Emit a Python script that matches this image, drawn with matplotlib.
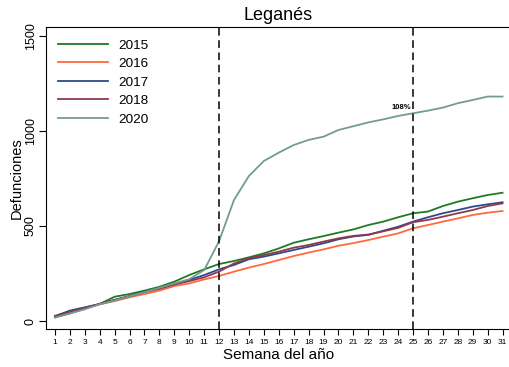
import matplotlib
matplotlib.use("Agg")
import matplotlib.pyplot as plt

plt.rcParams['font.family'] = ['Liberation Sans', 'DejaVu Sans']

# Semanas y defunciones acumuladas
semanas = list(range(1, 32))

d2015 = [20, 40, 65, 90, 128, 142, 160, 180, 207, 242, 272, 300, 316, 335, 356, 382,
         412, 430, 447, 465, 482, 505, 523, 546, 567, 576, 605, 628, 646, 663, 675]
d2016 = [28, 50, 70, 88, 105, 125, 142, 160, 184, 198, 219, 237, 260, 281, 300, 321,
         342, 360, 377, 396, 410, 426, 444, 461, 488, 505, 523, 540, 558, 570, 579]
d2017 = [25, 55, 72, 90, 112, 132, 155, 172, 195, 216, 242, 272, 295, 325, 339, 356,
         374, 391, 409, 430, 445, 453, 475, 496, 523, 546, 567, 584, 602, 614, 625]
d2018 = [22, 48, 68, 90, 110, 130, 152, 170, 192, 210, 230, 260, 303, 330, 347, 365,
         386, 400, 418, 435, 448, 455, 472, 490, 520, 532, 549, 567, 584, 605, 619]
d2020 = [18, 40, 62, 88, 108, 130, 152, 175, 198, 220, 268, 420, 637, 763, 842, 886,
         926, 953, 970, 1005, 1025, 1045, 1061, 1079, 1093, 1107, 1123, 1146, 1163, 1181, 1181]

series = [("2015", d2015, "#1f7a22"),
          ("2016", d2016, "#ff6a3d"),
          ("2017", d2017, "#2d4a8a"),
          ("2018", d2018, "#8e3a4c"),
          ("2020", d2020, "#739c90")]

fig = plt.figure(figsize=(5.09, 3.67), dpi=100)
ax = fig.add_axes([0.0904, 0.1035, 0.9136, 0.8229])

for nombre, valores, color in series:
    ax.plot(semanas, valores, color=color, lw=1.3, label=nombre)

ax.axvline(12, color="black", lw=1.1, ls=(0, (5, 3)))
ax.axvline(25, color="black", lw=1.1, ls=(0, (5, 3)))
ax.text(24.2, 1093 + 12, "108%", fontsize=5.5, fontweight="bold", ha="center", va="bottom")

ax.set_xlim(0.4, 31.57)
ax.set_ylim(-42, 1547)
ax.set_xticks(semanas)
ax.set_xticklabels([str(s) for s in semanas], fontsize=6)
ax.set_yticks([0, 500, 1000, 1500])
ax.set_yticklabels(["0", "500", "1000", "1500"], fontsize=9, rotation=90, va="center")
ax.tick_params(axis="x", length=4, pad=3.5)
ax.tick_params(axis="y", length=5, pad=1.5)

ax.set_xlabel("Semana del año", fontsize=11, labelpad=1)
ax.set_ylabel("Defunciones", fontsize=10.5, labelpad=1)
ax.set_title("Leganés", fontsize=13, pad=5)

ax.legend(loc="upper left", frameon=False, fontsize=9.7, handlelength=3.7,
          labelspacing=0.45, borderaxespad=0.5, bbox_to_anchor=(0.0, 1.0))

fig.savefig("out.png", dpi=100)
